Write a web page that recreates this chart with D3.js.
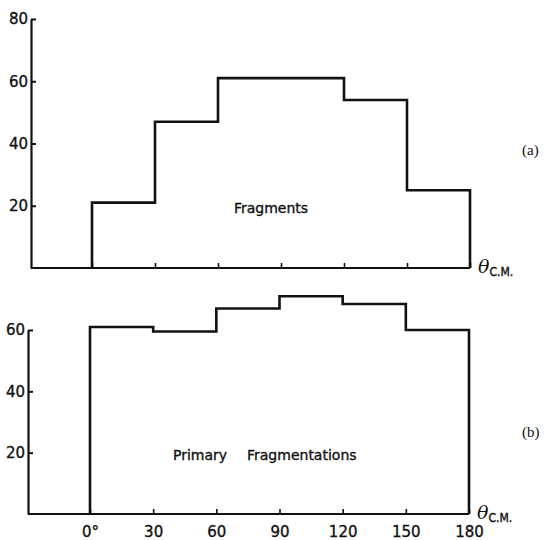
<!DOCTYPE html>
<html>
<head>
<meta charset="utf-8">
<script src="https://cdn.jsdelivr.net/npm/d3@7"></script>
<style>
  html, body { margin: 0; padding: 0; background: #fff; }
  svg { display: block; }
  .tick text { font-family: "DejaVu Sans", sans-serif; fill: #111; }
  .ink-text { stroke: #111; stroke-width: 0.35px; }
</style>
</head>
<body>
<svg id="chart" width="548" height="540"></svg>
<script>
// Angular bins in the centre-of-mass frame (degrees)
const binEdges = [0, 30, 60, 90, 120, 150, 180];
// (a) fragments per bin
const fragments = [21, 47, 61, 61, 54, 25];
// (b) primary fragmentations per bin
const primary = [61, 59.5, 67, 71, 68.5, 60];

const yTicksTop = [20, 40, 60, 80];
const yTicksBottom = [20, 40, 60];
const xTickValues = [0, 30, 60, 90, 120, 150, 180];
const xTickLabels = ["0°", "30", "60", "90", "120", "150", "180"];

const svg = d3.select("#chart");
const ink = "#111";

// Panel geometry
const panels = [
  {
    values: fragments, yDomain: [0, 80], yTicks: yTicksTop,
    axisX: 31, xRange: [92, 470], yRange: [268, 19],
    label: "Fragments", labelX: 271, labelY: 213, tag: "(a)", tagY: 155,
    showXLabels: false
  },
  {
    values: primary, yDomain: [0, 60], yTicks: yTicksBottom,
    axisX: 28, xRange: [90, 469], yRange: [514, 330],
    label: null, labelX: 0, labelY: 460, tag: "(b)", tagY: 437,
    showXLabels: true
  }
];

panels.forEach((p, idx) => {
  const x = d3.scaleLinear().domain([0, 180]).range(p.xRange);
  const y = d3.scaleLinear().domain(p.yDomain).range(p.yRange);
  const g = svg.append("g");

  // y axis: ticks point into the plot, labels on the left
  const yAxis = d3.axisLeft(y)
    .tickValues(p.yTicks)
    .tickSizeInner(-5)
    .tickSizeOuter(0)
    .tickPadding(3)
    .tickFormat(d3.format("d"));
  const ya = g.append("g")
    .attr("transform", `translate(${p.axisX},0)`)
    .call(yAxis);
  ya.select(".domain").attr("stroke", ink).attr("stroke-width", 2.2);
  ya.selectAll(".tick line").attr("stroke", ink).attr("stroke-width", 2);
  ya.selectAll(".tick text").attr("font-size", 15).attr("fill", ink)
    .attr("class", "ink-text");

  // baseline from the y axis to 180°
  g.append("line")
    .attr("x1", p.axisX).attr("x2", x(180))
    .attr("y1", y(0)).attr("y2", y(0))
    .attr("stroke", ink).attr("stroke-width", 2.2);

  // x ticks, pointing upward
  const xAxis = d3.axisBottom(x)
    .tickValues(xTickValues)
    .tickSizeInner(-5)
    .tickSizeOuter(0)
    .tickPadding(12)
    .tickFormat((d, i) => p.showXLabels ? xTickLabels[i] : "");
  const xa = g.append("g")
    .attr("transform", `translate(0,${y(0)})`)
    .call(xAxis);
  xa.select(".domain").remove();
  xa.selectAll(".tick line").attr("stroke", ink).attr("stroke-width", 1.6);
  xa.selectAll(".tick text").attr("font-size", 15).attr("fill", ink)
    .attr("class", "ink-text");

  // histogram outline
  const pts = [[binEdges[0], 0]];
  p.values.forEach((v, i) => {
    pts.push([binEdges[i], v]);
    pts.push([binEdges[i + 1], v]);
  });
  pts.push([binEdges[binEdges.length - 1], 0]);
  const line = d3.line().x(d => x(d[0])).y(d => y(d[1]));
  g.append("path")
    .attr("d", line(pts))
    .attr("fill", "none")
    .attr("stroke", ink)
    .attr("stroke-width", 2.6)
    .attr("stroke-linejoin", "miter");

  // in-plot caption
  const captionParts = p.label ? [[p.labelX, p.label, "middle"]]
    : [[173, "Primary", "start"], [247, "Fragmentations", "start"]];
  captionParts.forEach(([cx, txt, anchor]) => {
    g.append("text")
      .attr("class", "ink-text")
      .attr("x", cx).attr("y", p.labelY)
      .attr("text-anchor", anchor)
      .attr("font-family", "DejaVu Sans, sans-serif")
      .attr("font-size", 14)
      .attr("fill", ink)
      .text(txt);
  });

  // axis title θ_C.M.
  const t = g.append("text")
    .attr("x", x(180) + 8).attr("y", y(0) + 5)
    .attr("fill", ink);
  t.append("tspan")
    .attr("font-family", "DejaVu Serif, serif")
    .attr("font-style", "italic")
    .attr("font-size", 19)
    .text("θ");
  t.append("tspan")
    .attr("dy", 3)
    .attr("font-family", "DejaVu Sans Condensed, DejaVu Sans, sans-serif")
    .attr("font-size", 12)
    .attr("class", "ink-text")
    .text("C.M.");

  // panel tag
  g.append("text")
    .attr("x", 522).attr("y", p.tagY)
    .attr("font-family", "Liberation Serif, serif")
    .attr("font-size", 15)
    .attr("fill", ink)
    .text(p.tag);
});
</script>
</body>
</html>
